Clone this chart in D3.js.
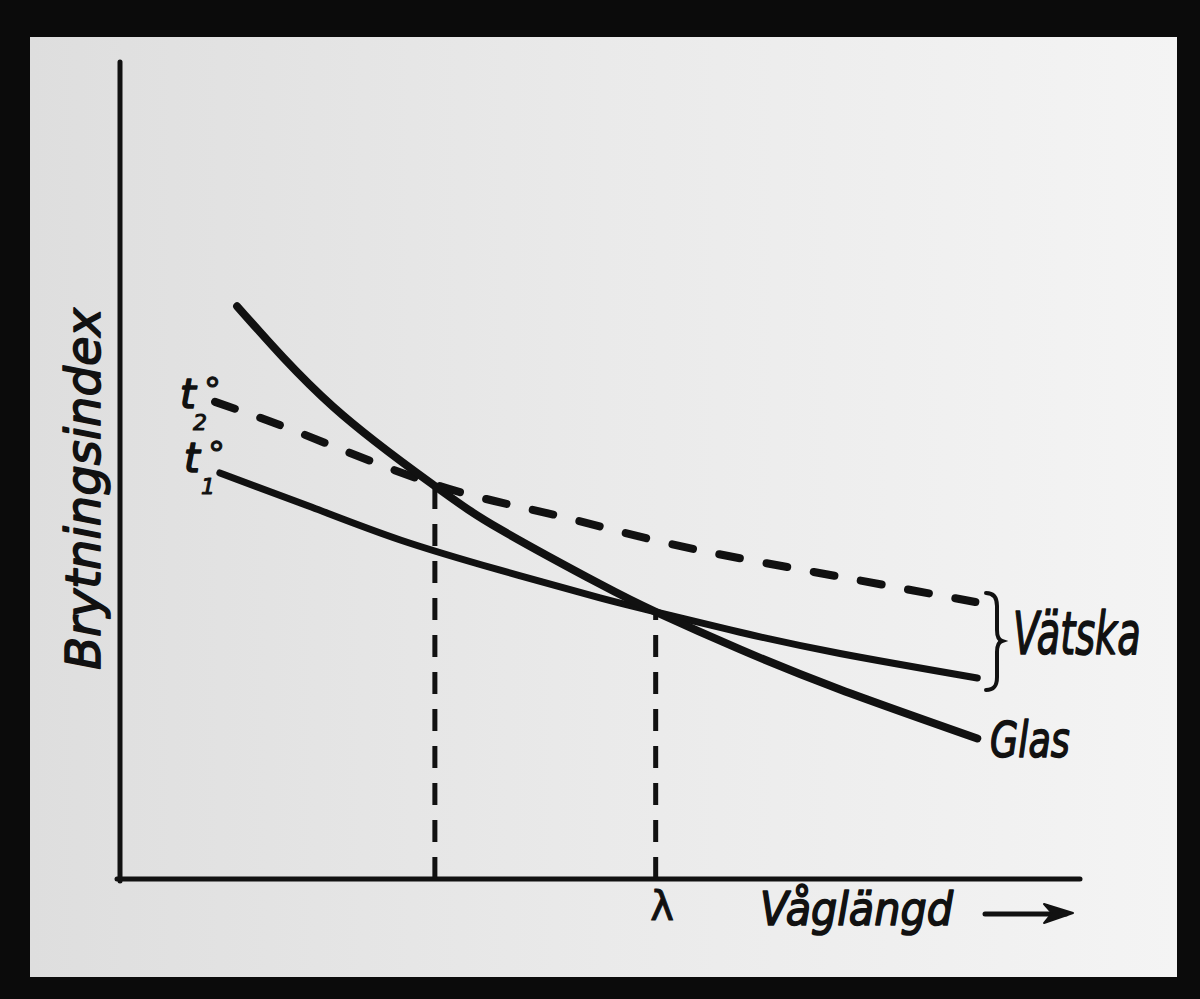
<!DOCTYPE html>
<html><head><meta charset="utf-8">
<script src="https://cdn.jsdelivr.net/npm/d3@7"></script>
<style>html,body{margin:0;padding:0;background:#0b0b0b;} svg{display:block}</style>
</head><body>
<svg id="chart" width="1200" height="999"></svg>
<script>
// ---- data (abstract units: x = wavelength, y = refractive index) ----
const glasX = [1.22, 2.22, 3.28, 3.96, 5.0, 5.58, 6.46, 7.5, 8.93];
const glasY = [7.01, 5.78, 4.81, 4.28, 3.61, 3.27, 2.81, 2.32, 1.72];
const t1X = [1.04, 2.0, 2.92, 3.96, 5.0, 5.58, 6.46, 7.5, 8.93];
const t1Y = [4.97, 4.55, 4.15, 3.78, 3.44, 3.27, 3.02, 2.76, 2.46];
const t2X = [0.99, 1.875, 3.28, 4.48, 5.70, 7.08, 8.91];
const t2Y = [5.84, 5.46, 4.83, 4.47, 4.11, 3.79, 3.39];
const markerX = [3.28, 5.58];
const markerY = [4.83, 3.27];
const xTickValues = [5.58];
const xTickLabels = ["λ"];
const xLabel = "Våglängd";
const yLabel = "Brytningsindex";
const seriesNames = ["Glas", "Vätska"];
const tempLabels = ["2", "1"];

const ink = "#111";
const svg = d3.select("#chart");
const defs = svg.append("defs");
const grad = defs.append("linearGradient").attr("id", "paper").attr("x1", "0").attr("x2", "1").attr("y1", "0").attr("y2", "0");
grad.append("stop").attr("offset", "0").attr("stop-color", "#dedede");
grad.append("stop").attr("offset", "0.5").attr("stop-color", "#eaeaea");
grad.append("stop").attr("offset", "1").attr("stop-color", "#f4f4f4");

svg.append("rect").attr("width", 1200).attr("height", 999).attr("fill", "#0b0b0b");
svg.append("rect").attr("x", 30).attr("y", 37).attr("width", 1147).attr("height", 940).attr("fill", "url(#paper)");

const x = d3.scaleLinear().domain([0, 10]).range([120, 1080]);
const y = d3.scaleLinear().domain([0, 10]).range([879, 62]);

const font = "'DejaVu Sans',sans-serif";
function hand(sel, size) {
  return sel.attr("font-family", font).attr("font-style", "italic").attr("font-size", size)
    .attr("fill", ink).attr("stroke", ink).attr("stroke-width", 1.6).attr("stroke-linejoin", "round");
}

// axes
const xAxis = svg.append("g").attr("transform", `translate(0,${y(0)})`)
  .call(d3.axisBottom(x).tickValues(xTickValues).tickFormat((d, i) => xTickLabels[i]).tickSize(0).tickSizeOuter(0).tickPadding(13));
xAxis.select(".domain").attr("stroke", ink).attr("stroke-width", 5).attr("d", `M${x(0) - 3},0H${x(10)}`).attr("stroke-linecap", "round");
hand(xAxis.selectAll(".tick text"), 40).attr("dx", 6).attr("dy", "0.71em").attr("font-style", "normal").attr("stroke-width", 1);

const yAxis = svg.append("g").attr("transform", `translate(${x(0)},0)`)
  .call(d3.axisLeft(y).tickValues([]).tickSizeOuter(0));
yAxis.select(".domain").attr("stroke", ink).attr("stroke-width", 5).attr("stroke-linecap", "round")
  .attr("d", `M0,${y(10)}V${y(0) + 2}`);

// axis titles
hand(svg.append("text"), 48).attr("transform", `translate(100,${(308 + 670) / 2}) rotate(-90)`)
  .attr("text-anchor", "middle").text(yLabel);

hand(svg.append("text"), 46).attr("transform", "translate(760,925) scale(0.9,1)").text(xLabel);

// arrow after x title
svg.append("path").attr("d", "M985,914H1066").attr("stroke", ink).attr("stroke-width", 5).attr("stroke-linecap", "round");
svg.append("path").attr("d", "M1044,904L1073,913L1044,923L1052,913Z").attr("fill", ink).attr("stroke", ink).attr("stroke-width", 2).attr("stroke-linejoin", "round");

// curves
const line = d3.line().x(d => x(d[0])).y(d => y(d[1])).curve(d3.curveNatural);
const glas = glasX.map((v, i) => [v, glasY[i]]);
const t1 = t1X.map((v, i) => [v, t1Y[i]]);
const t2 = t2X.map((v, i) => [v, t2Y[i]]);

// vertical dashed markers
svg.selectAll(".marker").data(markerX).join("line").attr("class", "marker")
  .attr("x1", d => x(d)).attr("x2", d => x(d))
  .attr("y1", y(0)).attr("y2", (d, i) => y(markerY[i]))
  .attr("stroke", ink).attr("stroke-width", 5).attr("stroke-dasharray", "22,15");

svg.append("path").attr("d", line(t2)).attr("fill", "none").attr("stroke", ink).attr("stroke-width", 8)
  .attr("stroke-linecap", "round").attr("stroke-dasharray", "21,27");
svg.append("path").attr("d", line(t1)).attr("fill", "none").attr("stroke", ink).attr("stroke-width", 7).attr("stroke-linecap", "round");
svg.append("path").attr("d", line(glas)).attr("fill", "none").attr("stroke", ink).attr("stroke-width", 8).attr("stroke-linecap", "round");

// temperature labels t2°, t1°
const tPos = [[180, 408], [184, 472]];
tempLabels.forEach((lab, i) => {
  const [tx, ty] = tPos[i];
  hand(svg.append("text"), 40).attr("x", tx).attr("y", ty).text("t");
  hand(svg.append("text"), 34).attr("x", tx + 24).attr("y", ty - 6).attr("font-style", "normal").attr("stroke-width", 1).text("°");
  hand(svg.append("text"), 22).attr("x", tx + 13 + (i === 1 ? 4 : 0)).attr("y", ty + 22).attr("stroke-width", 1).text(lab);
});

// brace for Vätska
svg.append("path").attr("d", "M986,593C994,593 997,598 997,606V630C997,637 999,640 1002,641C999,642 997,645 997,652V677C997,686 994,690 986,690")
  .attr("fill", "none").attr("stroke", ink).attr("stroke-width", 4).attr("stroke-linecap", "round");

// series labels
hand(svg.append("text"), 58).attr("transform", "translate(1013,654) scale(0.66,1)").text(seriesNames[1]);
hand(svg.append("text"), 50).attr("transform", "translate(990,757) scale(0.73,1)").text(seriesNames[0]);
</script>
</body></html>
